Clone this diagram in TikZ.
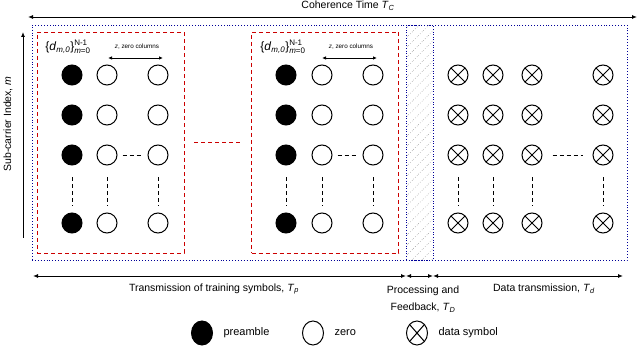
\documentclass[tikz,border=0pt]{standalone}
\usepackage{amsmath}
\usepackage{fontspec}
\setmainfont{Liberation Sans}
\usetikzlibrary{arrows.meta,positioning,patterns.meta,shapes.geometric}

\newcommand{\tsub}[2]{\textit{#1}\ensuremath{_{\text{\textit{#2}}}}}
\newcommand{\dset}{\{\textit{d}\ensuremath{_{\text{\textit{m,0}}}}\}\ensuremath{{}^{\text{N-1}}_{\text{\textit{m}=0}}}}

\begin{document}
\begin{tikzpicture}[
    x=1pt, y=-1pt,
    >={Latex[length=5pt, width=4pt]},
    font=\fontsize{10.5}{17}\selectfont,
    sym/.style={
        circle, draw, line width=1pt,
        minimum size=20pt, inner sep=0pt
    },
    pre/.style={sym, fill=black},
    zro/.style={sym, fill=white},
    dat/.style={
        sym,
        path picture={\draw[line width=1pt]
            (path picture bounding box.north west) -- (path picture bounding box.south east)
            (path picture bounding box.north east) -- (path picture bounding box.south west);}
    },
    legsym/.style={ellipse, minimum width=21pt, minimum height=24pt},
    trainbox/.style={
        rectangle, draw=red!80!black, dashed, line width=0.9pt,
        dash pattern=on 4pt off 3pt,
        minimum width=147pt, minimum height=221pt, inner sep=0pt
    },
    frame/.style={
        rectangle, draw=blue!60!black, dotted, line width=0.9pt,
        inner sep=0pt
    },
    gap/.style={dashed, dash pattern=on 4pt off 3pt, line width=0.9pt},
    tiny/.style={font=\fontsize{6.3}{7}\selectfont},
    legtext/.style={font=\fontsize{11}{13}\selectfont}
]
    \useasboundingbox (0,0) rectangle (638,355);

    % Coherence time
    \coordinate (tl) at (28,17);
    \coordinate (tr) at (637,17);
    \draw [<->, line width=0.9pt] (tl) -- (tr);
    \node (coh) at (348,6) {Coherence Time \tsub{T}{C}};

    % Frame and processing slot
    \node [frame, minimum width=595pt, minimum height=235pt] (all) at (329.5,142.5) {};
    \node [frame, minimum width=27pt, minimum height=235pt,
           pattern={Lines[angle=45, distance=7pt, line width=0.6pt]}, pattern color=gray!70] (proc) at (419.5,142.5) {};

    % Training blocks
    \node [trainbox] (blk1) at (110.5,142.5) {};
    \node [trainbox] (blk2) at (325,142.5) {};
    \draw [gap, draw=red!80!black, shorten <=10pt, shorten >=11pt] (blk1) -- (blk2);

    \node [font=\fontsize{12}{14}\selectfont] (dl1) at (68,47) {\dset};
    \node [font=\fontsize{12}{14}\selectfont] (dl2) at (283,47) {\dset};

    \node [tiny] (zl1) at (137,47) {\textit{z}, zero columns};
    \node [tiny] (zl2) at (351,47) {\textit{z}, zero columns};
    \coordinate (za1) at (108,58);
    \coordinate (zb1) at (163,58);
    \coordinate (za2) at (322,58);
    \coordinate (zb2) at (377,58);
    \draw [<->, line width=0.8pt, >={Latex[length=4pt, width=3.5pt]}] (za1) -- (zb1);
    \draw [<->, line width=0.8pt, >={Latex[length=4pt, width=3.5pt]}] (za2) -- (zb2);

    % Symbol grid
    \foreach \r/\y in {1/75,2/115,3/155,4/223} {
        \node [pre] (a\r) at (72,\y) {};
        \node [zro] (b\r) at (107,\y) {};
        \node [zro] (c\r) at (158,\y) {};
        \node [pre] (d\r) at (286,\y) {};
        \node [zro] (e\r) at (322,\y) {};
        \node [zro] (f\r) at (373,\y) {};
        \node [dat] (g\r) at (458,\y) {};
        \node [dat] (h\r) at (493,\y) {};
        \node [dat] (i\r) at (532,\y) {};
        \node [dat] (j\r) at (603,\y) {};
    }
    \foreach \c in {a,...,j}
        \draw [gap, shorten <=12pt, shorten >=6pt] (\c3) -- (\c4);
    \draw [gap, shorten <=5pt, shorten >=5pt] (b3) -- (c3);
    \draw [gap, shorten <=5pt, shorten >=5pt] (e3) -- (f3);
    \draw [gap, shorten <=10pt, shorten >=10pt] (i3) -- (j3);

    % Sub-carrier axis
    \coordinate (ab) at (23,238);
    \coordinate (at) at (23,32);
    \draw [->, line width=0.9pt] (ab) -- (at);
    \node [rotate=90] (sub) at (8,124) {Sub-carrier Index, \textit{m}};

    % Time line
    \coordinate (b0) at (33,276);
    \coordinate (b1) at (406,276);
    \coordinate (b2) at (433,276);
    \coordinate (b3) at (623,276);
    \draw [<->, line width=0.9pt] (b0) -- (b1);
    \draw [<->, line width=0.9pt] (b1) -- (b2);
    \draw [<->, line width=0.9pt] (b2) -- (b3);

    \node (tp) at (214,289) {Transmission of training symbols, \tsub{T}{p}};
    \node [align=center] (td) at (423,299) {Processing and\\Feedback, \tsub{T}{D}};
    \node (tdd) at (544,289) {Data transmission, \tsub{T}{d}};

    % Legend
    \node [pre, legsym] (lp) at (202,333) {};
    \node [legtext, right=7pt of lp] (lpt) {preamble};
    \node [zro, legsym] (lz) at (313,333) {};
    \node [legtext, right=7pt of lz] (lzt) {zero};
    \node [dat, legsym] (ld) at (417,333) {};
    \node [legtext, right=7pt of ld] (ldt) {data symbol};
\end{tikzpicture}
\end{document}
